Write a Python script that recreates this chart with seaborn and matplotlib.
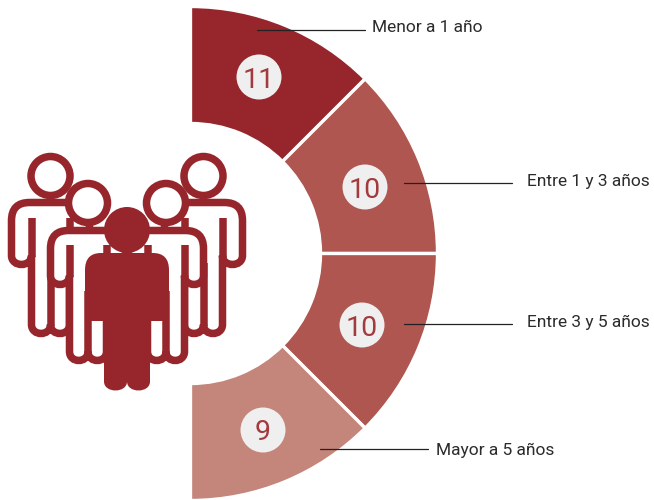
import matplotlib
matplotlib.use("Agg")
import matplotlib.pyplot as plt
from matplotlib.patches import Circle, PathPatch
from matplotlib.path import Path
import seaborn as sns

categories = ["Menor a 1 año", "Entre 1 y 3 años", "Entre 3 y 5 años", "Mayor a 5 años"]
values = [11, 10, 10, 9]
# the slices in the picture all span 45 degrees, whatever the value is
shares = [0.125, 0.125, 0.125, 0.125]
colors = ["#96262B", "#AE564F", "#C4857B"]
slice_colors = [colors[0], colors[1], colors[1], colors[2]]

badge_xy = [(259, 77), (365, 187), (362, 325), (263, 430)]
line_xy = [(257, 365, 29.5), (404, 512, 183), (404, 512, 323.5), (320, 428, 449)]
label_xy = [(372, 28), (527, 181), (527, 322), (436, 450)]

H = 500
dark = colors[0]
C4 = [Path.CURVE4] * 3

sns.set_theme(style="white")
plt.rcParams["font.family"] = ["Roboto", "DejaVu Sans"]

fig, ax = plt.subplots(figsize=(6.54, 5), dpi=100)
fig.subplots_adjust(0, 0, 1, 1)

ax.pie(shares, colors=slice_colors, startangle=90, counterclock=False,
       normalize=False, center=(190.5, H - 253.5), radius=247,
       wedgeprops=dict(width=117, edgecolor="white", linewidth=2.4))


def u_turn(x1, x2, y):
    # round bottom going from x1 to x2, lowest point at y
    return [(x1, y - 9), (x1, y + 3), (x2, y + 3), (x2, y - 9)]


def person_outline(x, top, h, L, arm_b, leg_b, r=18):
    # closed outline of one person, in picture pixels
    verts = [(x, top), (x - h + r, top), (x - h, top), (x - h, top + r)]
    codes = [Path.MOVETO, Path.LINETO, Path.CURVE3, Path.CURVE3]
    for x1, x2, y in [(x - h, x - L, arm_b), (x - L, x, leg_b), (x, x + L, leg_b), (x + L, x + h, arm_b)]:
        verts += u_turn(x1, x2, y)
        codes += [Path.LINETO] + C4
    verts += [(x + h, top + r), (x + h, top), (x + h - r, top), (x, top)]
    codes += [Path.LINETO, Path.CURVE3, Path.CURVE3, Path.LINETO]
    return Path([(a, H - b) for a, b in verts], codes)


def open_person(x, head_y, top, h, L, arm_b, leg_b, inner_top, z):
    lw = 7.5 * 0.72
    ax.add_patch(PathPatch(person_outline(x, top, h, L, arm_b, leg_b), fc="white", ec=dark, lw=lw, zorder=z))
    for a, b, c in [(x - L, inner_top, arm_b - 8), (x + L, inner_top, arm_b - 8), (x, top + 60, leg_b - 8)]:
        ax.plot([a, a], [H - b, H - c], color=dark, lw=lw, solid_capstyle="butt", zorder=z + 0.1)
    ax.add_patch(Circle((x, H - head_y), 19.5, fc="white", ec=dark, lw=lw, zorder=z + 0.2))


axis_x = 127
for off, head_y, top, h, L, arm_b, leg_b, inner_top, z in [
    (76.5, 176, 202.5, 39, 19, 264.5, 333.5, 218, 3),
    (39, 203, 230.5, 37.5, 18.5, 284.5, 360.5, 245, 4),
]:
    open_person(axis_x - off, head_y, top, h, L, arm_b, leg_b, inner_top, z)
    open_person(axis_x + off, head_y, top, h, L, arm_b, leg_b, inner_top, z)

# solid person in front
x0, h0, L0 = axis_x, 42, 23
front = [(x0, 253), (x0 - h0 + 16, 253), (x0 - h0, 253), (x0 - h0, 270), (x0 - h0, 321), (x0 - L0, 321)]
front_codes = [Path.MOVETO, Path.LINETO, Path.CURVE3, Path.CURVE3, Path.LINETO, Path.LINETO]
for x1, x2 in [(x0 - L0, x0), (x0, x0 + L0)]:
    front += u_turn(x1, x2, 390.5)
    front_codes += [Path.LINETO] + C4
front += [(x0 + L0, 321), (x0 + h0, 321), (x0 + h0, 270), (x0 + h0, 253), (x0 + h0 - 16, 253), (x0, 253)]
front_codes += [Path.LINETO, Path.LINETO, Path.LINETO, Path.CURVE3, Path.CURVE3, Path.LINETO]
ax.add_patch(PathPatch(Path([(a, H - b) for a, b in front], front_codes), fc=dark, ec="none", zorder=6))
ax.add_patch(Circle((x0, H - 230), 23, fc=dark, ec="none", zorder=6))

# badges, leader lines and labels
for val, (bx, by) in zip(values, badge_xy):
    ax.add_patch(Circle((bx, H - by), 22.5, fc="#EFEFEF", ec="none", zorder=7))
    ax.text(bx, H - by, str(val), ha="center", va="center_baseline", fontsize=20.5,
            family=["Roboto", "DejaVu Sans"], color="#A23A3E", zorder=8)

for (x1, x2, y) in line_xy:
    ax.plot([x1, x2], [H - y, H - y], color="#222222", lw=0.9, zorder=8)

for name, (tx, ty) in zip(categories, label_xy):
    ax.text(tx, H - ty, name, ha="left", va="center", fontsize=12.5, color="#2B2B2B", zorder=8)

ax.set_xlim(0, 654)
ax.set_ylim(0, H)
ax.set_aspect("equal")
ax.axis("off")
fig.savefig("out.png", dpi=100, facecolor="white")
